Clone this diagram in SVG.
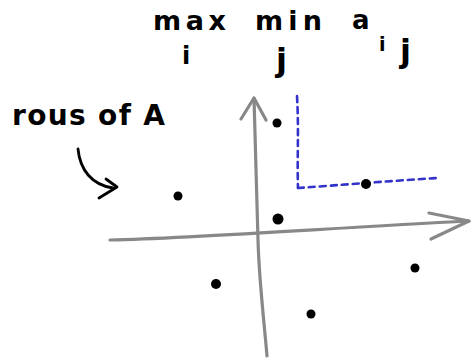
<svg xmlns="http://www.w3.org/2000/svg" width="473" height="362" viewBox="0 0 473 362">
<style>
.t{font-family:"DejaVu Sans","Liberation Sans",sans-serif;font-weight:bold;fill:#000}
.ax{fill:none;stroke:#888;stroke-width:3.2;stroke-linecap:round;stroke-linejoin:round}
.ink{fill:none;stroke:#000;stroke-width:2.8;stroke-linecap:round;stroke-linejoin:round}
.bl{fill:none;stroke:#3333cc;stroke-width:2.6;stroke-dasharray:6 5;stroke-linecap:round}
.dot{fill:#000}
</style>
<rect width="473" height="362" fill="#fff"/>
<g id="title">
<text class="t" x="153" y="30" font-size="27" textLength="73" lengthAdjust="spacing">max</text>
<text class="t" x="255" y="30" font-size="27" textLength="67" lengthAdjust="spacing">min</text>
<text class="t" x="352" y="29" font-size="26">a</text>
<text class="t" x="182" y="64" font-size="24">i</text>
<text class="t" x="276" y="71" font-size="32">j</text>
<text class="t" x="379" y="51" font-size="19">i</text>
<text class="t" x="400" y="62" font-size="32">j</text>
</g>
<g id="rows-label">
<text class="t" x="12" y="125" font-size="28" textLength="153" lengthAdjust="spacing">rous of A</text>
<path class="ink" d="M78,149 C80,170 92,185 113,188"/>
<path class="ink" d="M106,179 L117,187 L99,198"/>
</g>
<g id="axes">
<path class="ax" d="M267,356 C264,320 259,280 258,240 C256,180 255,130 254,98"/>
<path class="ax" d="M241,119 L254,98 L266,120"/>
<path class="ax" d="M110,240 C200,238 330,228 469,221"/>
<path class="ax" d="M429,213 L469,221 L431,239"/>
</g>
<g id="connectors">
<path class="bl" d="M297,96 C299,130 297,160 298,188"/>
<path class="bl" d="M298,188 C340,185 390,181 437,178"/>
</g>
<g id="points">
<circle class="dot" cx="277" cy="123" r="4.5"/>
<circle class="dot" cx="178" cy="196" r="4.5"/>
<circle class="dot" cx="278" cy="219" r="5.5"/>
<circle class="dot" cx="366" cy="184" r="5"/>
<circle class="dot" cx="216" cy="284" r="5"/>
<circle class="dot" cx="415" cy="268" r="4.5"/>
<circle class="dot" cx="311" cy="314" r="4.5"/>
</g>
</svg>
